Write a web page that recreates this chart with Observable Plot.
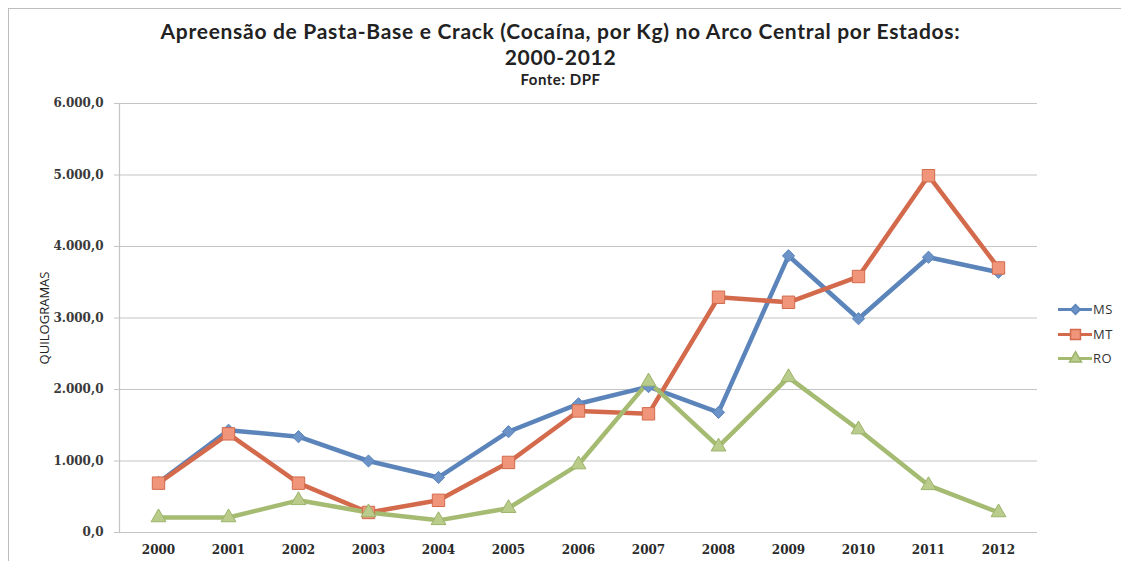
<!DOCTYPE html>
<html>
<head>
<meta charset="utf-8">
<script src="https://cdn.jsdelivr.net/npm/d3@7"></script>
<script src="https://cdn.jsdelivr.net/npm/@observablehq/plot@0.6"></script>
<style>
  html, body { margin: 0; padding: 0; background: #fff; }
  #wrap { position: relative; width: 1121px; height: 561px; overflow: hidden; }
  #frame { position: absolute; left: 8px; top: 8px; width: 1200px; height: 600px; border-left: 1px solid #bdbdbd; border-top: 1px solid #bdbdbd; }
  #head { position: relative; height: 90px; text-align: center; font-family: Lato, "Open Sans", sans-serif; color: #222; }
  #t1 { position: absolute; left: 0; right: 0; top: 18px; font-size: 21px; font-weight: bold; line-height: 26px; letter-spacing: 0.7px; }
  #t3 { position: absolute; left: 0; right: 0; top: 71px; font-size: 15px; font-weight: bold; line-height: 16px; letter-spacing: 0.5px; }
  #legend { position: absolute; left: 1058px; top: 297px; font-family: "Open Sans", Lato, sans-serif; font-size: 13px; color: #333; letter-spacing: 0.5px; }
  #legend div { height: 24.5px; display: flex; align-items: center; }
  #legend svg { margin-right: 1px; }
</style>
</head>
<body>
<div id="wrap">
  <div id="frame"></div>
  <div id="head">
    <div id="t1">Apreensão de Pasta-Base e Crack (Cocaína, por Kg) no Arco Central por Estados:<br>2000-2012</div>
    <div id="t3">Fonte: DPF</div>
  </div>
  <div id="chart"></div>
  <div id="legend"></div>
</div>
<script>
const years = ["2000","2001","2002","2003","2004","2005","2006","2007","2008","2009","2010","2011","2012"];
const seriesNames = ["MS", "MT", "RO"];
const msValues = [700, 1430, 1340, 1000, 770, 1410, 1800, 2040, 1680, 3870, 2990, 3850, 3640];
const mtValues = [690, 1380, 690, 280, 450, 980, 1700, 1660, 3290, 3220, 3580, 4990, 3700];
const roValues = [210, 210, 450, 280, 170, 340, 950, 2110, 1200, 2170, 1440, 660, 280];
const yTicks = [0, 1000, 2000, 3000, 4000, 5000, 6000];

const lineColors = {MS: "#5b84bb", MT: "#d36a4c", RO: "#a5bb72"};
const markFill = {MS: "#6b93c8", MT: "#f0957a", RO: "#b9cc8c"};
const markStroke = {MS: "#5b84bb", MT: "#d36a4c", RO: "#9db36a"};
const symbols = {MS: "diamond2", MT: "square", RO: "triangle"};
const sizes = {MS: 5.5, MT: 7, RO: 5.5};

const valuesBySeries = {MS: msValues, MT: mtValues, RO: roValues};
const rows = seriesNames.flatMap(s => years.map((yr, i) => ({series: s, year: yr, value: valuesBySeries[s][i]})));

const loc = d3.formatLocale({decimal: ",", thousands: ".", grouping: [3], currency: ["", ""]});
const fmt = loc.format(",.1f");

const marks = [
  Plot.gridY(yTicks, {stroke: "#c4c4c4", strokeOpacity: 1, strokeWidth: 1.2}),
  Plot.frame({anchor: "left", stroke: "#c4c4c4", strokeWidth: 1.2}),
  Plot.axisY({ticks: yTicks, tickFormat: fmt, tickSize: 5, tickPadding: 11, stroke: "#c4c4c4",
    fontFamily: "DejaVu Serif", fontSize: 12, fontWeight: "bold", fill: "#3a3a3a",
    label: "QUILOGRAMAS", labelAnchor: "center", labelArrow: "none", labelOffset: 80}),
  Plot.axisX({tickSize: 0, tickPadding: 13, fontFamily: "DejaVu Serif", fontSize: 12, fontWeight: "bold", fill: "#2a2a2a", label: null})
];
for (const s of seriesNames) {
  const d = rows.filter(r => r.series === s);
  marks.push(Plot.line(d, {x: "year", y: "value", stroke: lineColors[s], strokeWidth: 4.5, strokeLinejoin: "round"}));
}
for (const s of seriesNames) {
  const d = rows.filter(r => r.series === s);
  marks.push(Plot.dot(d, {x: "year", y: "value", symbol: () => symbols[s], r: sizes[s], fill: markFill[s], stroke: markStroke[s], strokeWidth: 1}));
}

const chart = Plot.plot({
  width: 1121,
  height: 471,
  marginTop: 13,
  marginBottom: 29,
  marginLeft: 119,
  marginRight: 84,
  style: {background: "transparent", overflow: "visible"},
  x: {type: "point", domain: years, padding: 0.5},
  y: {domain: [0, 6000]},
  symbol: {type: "identity"},
  marks
});
chart.querySelectorAll("g[aria-label='y-axis label']").forEach(el => {
  el.setAttribute("font-family", "'Open Sans', Lato, sans-serif");
  el.setAttribute("font-size", "13");
  el.setAttribute("font-weight", "normal");
  el.setAttribute("fill", "#222");
});
document.getElementById("chart").appendChild(chart);

const legend = document.getElementById("legend");
for (const s of seriesNames) {
  const row = document.createElement("div");
  const sw = Plot.plot({
    width: 34, height: 16, margin: 0,
    x: {domain: [0, 1], axis: null}, y: {domain: [0, 1], axis: null},
    symbol: {type: "identity"},
    marks: [
      Plot.ruleY([0.5], {stroke: lineColors[s], strokeWidth: 3}),
      Plot.dot([{x: 0.5, y: 0.5}], {x: "x", y: "y", symbol: () => symbols[s], r: sizes[s] * 0.8, fill: markFill[s], stroke: markStroke[s]})
    ]
  });
  row.appendChild(sw);
  const lab = document.createElement("span");
  lab.textContent = s;
  row.appendChild(lab);
  legend.appendChild(row);
}
</script>
</body>
</html>
